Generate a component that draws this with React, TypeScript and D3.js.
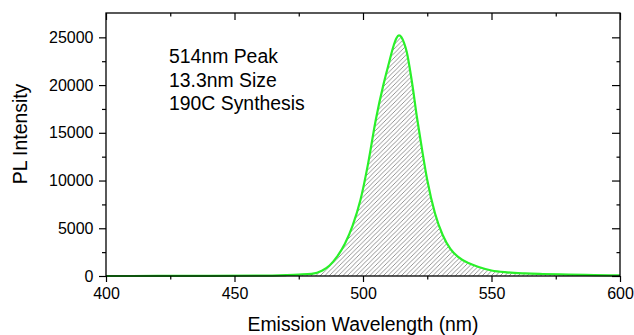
import { useEffect, useRef } from 'react';
import * as d3 from 'd3';

const wavelengths = [400, 420, 440, 460, 470, 475, 480, 484, 487, 490, 493, 496, 499, 502, 505, 508, 510, 512, 513, 514, 515, 516, 517, 519, 521, 523, 525, 528, 531, 534, 537, 541, 545, 550, 556, 563, 570, 580, 590, 600];
const intensity = [0, 5, 15, 40, 100, 150, 230, 550, 1100, 2050, 3400, 5300, 7950, 11800, 16400, 20100, 22200, 24200, 24900, 25200, 25000, 24400, 23500, 20400, 16600, 13200, 10050, 6570, 4300, 2850, 2000, 1350, 950, 580, 380, 270, 210, 150, 100, 60];
const xTicks = [400, 450, 500, 550, 600];
const yTicks = [0, 5000, 10000, 15000, 20000, 25000];
const notes = ['514nm Peak', '13.3nm Size', '190C Synthesis'];

export default function App() {
  const svgRef = useRef<SVGSVGElement>(null);

  useEffect(() => {
    if (!svgRef.current) return;
    const W = 634, H = 335;
    const m = { top: 13, right: 14, bottom: 59, left: 106 };
    const w = W - m.left - m.right;
    const h = H - m.top - m.bottom;
    const font = '"Liberation Sans", Arial, sans-serif';

    const svg = d3.select(svgRef.current);
    svg.selectAll('*').remove();
    svg.attr('width', W).attr('height', H);

    svg.append('rect').attr('width', W).attr('height', H).attr('fill', '#fff');

    const defs = svg.append('defs');
    defs.append('pattern')
      .attr('id', 'hatch')
      .attr('patternUnits', 'userSpaceOnUse')
      .attr('width', 4.5).attr('height', 4.5)
      .append('path')
      .attr('d', 'M-1.125,1.125 l2.25,-2.25 M0,4.5 l4.5,-4.5 M3.375,5.625 l2.25,-2.25')
      .attr('stroke', '#5a5a5a')
      .attr('stroke-width', 0.65);

    const g = svg.append('g').attr('transform', `translate(${m.left},${m.top})`);

    const x = d3.scaleLinear().domain([400, 600]).range([0, w]);
    const y = d3.scaleLinear().domain([0, 27550]).range([h, 0]);

    const data = wavelengths.map((wl, i) => [wl, intensity[i]] as [number, number]);

    // hatched area under the curve
    const area = d3.area<[number, number]>()
      .x(d => x(d[0]))
      .y0(h)
      .y1(d => y(d[1]))
      .curve(d3.curveMonotoneX);

    g.append('path')
      .datum(data)
      .attr('d', area)
      .attr('fill', 'url(#hatch)');

    const line = d3.line<[number, number]>()
      .x(d => x(d[0]))
      .y(d => y(d[1]))
      .curve(d3.curveMonotoneX);

    g.append('path')
      .datum(data)
      .attr('d', line)
      .attr('fill', 'none')
      .attr('stroke', '#2af02a')
      .attr('stroke-width', 2.2);

    // axes
    const styleAxis = (sel: any) => {
      sel.select('.domain').remove();
      sel.selectAll('line').attr('stroke', '#000').attr('stroke-width', 1.2);
      sel.selectAll('text').attr('font-family', font).attr('font-size', 16).attr('fill', '#000');
    };

    const xMinor = d3.range(425, 600, 50);
    const yMinor = d3.range(2500, 27500, 5000);

    g.append('g').attr('transform', `translate(0,${h})`)
      .call(d3.axisBottom(x).tickValues(xTicks).tickSize(6).tickPadding(6).tickFormat(d3.format('d')))
      .call(styleAxis);
    g.append('g').attr('transform', `translate(0,${h})`)
      .call(d3.axisBottom(x).tickValues(xMinor).tickSize(3.5).tickFormat(() => ''))
      .call(styleAxis);

    g.append('g')
      .call(d3.axisLeft(y).tickValues(yTicks).tickSize(7).tickPadding(5.5).tickFormat(d3.format('d')))
      .call(styleAxis);
    g.append('g')
      .call(d3.axisLeft(y).tickValues(yMinor).tickSize(4).tickFormat(() => ''))
      .call(styleAxis);

    // top and right mirror ticks (inward)
    g.append('g')
      .call(d3.axisTop(x).tickValues(xTicks).tickSize(-7).tickFormat(() => ''))
      .call(styleAxis);
    g.append('g')
      .call(d3.axisTop(x).tickValues(xMinor).tickSize(-3.5).tickFormat(() => ''))
      .call(styleAxis);
    g.append('g').attr('transform', `translate(${w},0)`)
      .call(d3.axisRight(y).tickValues(yTicks).tickSize(-8).tickFormat(() => ''))
      .call(styleAxis);
    g.append('g').attr('transform', `translate(${w},0)`)
      .call(d3.axisRight(y).tickValues(yMinor).tickSize(-3.5).tickFormat(() => ''))
      .call(styleAxis);

    // frame
    g.append('rect')
      .attr('width', w).attr('height', h)
      .attr('fill', 'none')
      .attr('stroke', '#000')
      .attr('stroke-width', 1.3);

    // labels
    svg.append('text')
      .attr('x', m.left + w / 2).attr('y', 331)
      .attr('text-anchor', 'middle')
      .attr('font-family', font).attr('font-size', 19.4)
      .text('Emission Wavelength (nm)');

    svg.append('text')
      .attr('transform', `translate(27,${134}) rotate(-90)`)
      .attr('text-anchor', 'middle')
      .attr('font-family', font).attr('font-size', 19.4)
      .text('PL Intensity');

    notes.forEach((t, i) => {
      svg.append('text')
        .attr('x', 169).attr('y', 63 + i * 23.6)
        .attr('font-family', font).attr('font-size', 19.4)
        .text(t);
    });
  }, []);

  return (
    <div style={{ position: 'absolute', left: 0, top: 0 }}>
      <svg ref={svgRef} style={{ display: 'block' }} />
    </div>
  );
}
